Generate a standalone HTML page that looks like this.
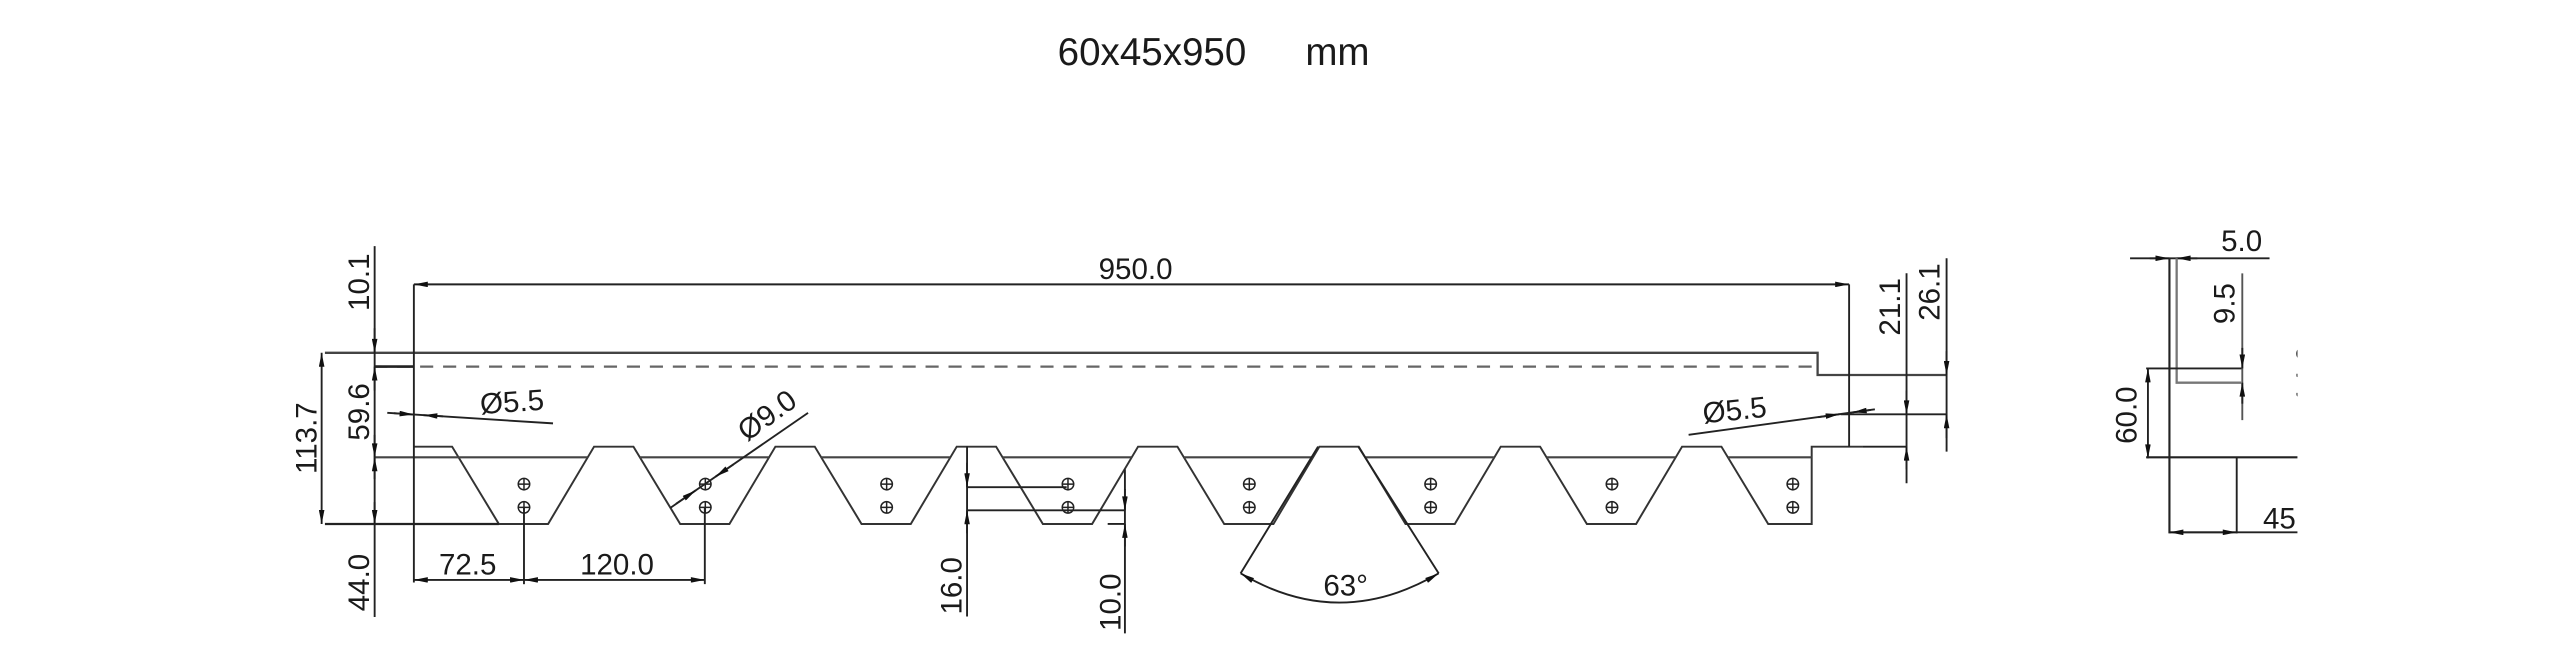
<!DOCTYPE html>
<html><head><meta charset="utf-8"><style>
html,body{margin:0;padding:0;background:#fff;}
svg{display:block}
text{font-family:"Liberation Sans",Arial,sans-serif;fill:#1a1a1a}
</style></head><body>
<svg width="2560" height="660" viewBox="0 0 1560 402.2" preserveAspectRatio="none" xmlns="http://www.w3.org/2000/svg">
<defs>
<marker id="a" viewBox="0 0 10 4" refX="10" refY="2" markerWidth="9" markerHeight="3.4" markerUnits="userSpaceOnUse" orient="auto-start-reverse"><path d="M0,0L10,2L0,4z" fill="#111"/></marker>
<clipPath id="cp"><rect x="0" y="0" width="1400" height="402"/></clipPath>
</defs>
<rect width="1560" height="402.2" fill="#fff"/>
<text x="702" y="39.6" font-size="23.5" text-anchor="middle">60x45x950</text>
<text x="815" y="39.6" font-size="23.5" text-anchor="middle">mm</text>

<g stroke="#222" stroke-width="1.15" fill="none">
<path d="M198,215 H1107.6 V228.5 H1186" stroke="#444" stroke-width="1.4"/>
<line x1="228" y1="223.4" x2="1107" y2="223.4" stroke="#666" stroke-width="1.4" stroke-dasharray="8 6"/>
<line x1="228" y1="223.4" x2="252" y2="223.4" stroke-width="1.6"/>
<path d="M252,272.2 H275.5 L304,319.3 H334 L362,272.2 H386 L414.5,319.3 H444.5 L472.5,272.2 H496.5 L525,319.3 H555 L583,272.2 H607 L635.5,319.3 H665.5 L693.5,272.2 H717.5 L746,319.3 H776 L804,272.2 H828 L856.5,319.3 H886.5 L914.5,272.2 H938.5 L967,319.3 H997 L1025,272.2 H1049 L1077.5,319.3 H1104 V272.2 H1135" stroke="#333" stroke-width="1.2"/>
<path d="M228,278.7H358 M390,278.7H468.5 M500.5,278.7H579 M611,278.7H689.5 M721.5,278.7H800 M832,278.7H910.5 M942.5,278.7H1021 M1053,278.7H1104" stroke="#444" stroke-width="1.3"/>
<line x1="198" y1="319.3" x2="304" y2="319.3" stroke-width="1.4"/>

<line x1="228.3" y1="150" x2="228.3" y2="376"/>
<line x1="228.3" y1="200" x2="228.3" y2="215" marker-end="url(#a)"/>
<line x1="228.3" y1="238" x2="228.3" y2="223.4" marker-end="url(#a)"/>
<line x1="228.3" y1="265" x2="228.3" y2="278.7" marker-end="url(#a)"/>
<line x1="228.3" y1="292" x2="228.3" y2="278.7" marker-end="url(#a)"/>
<line x1="228.3" y1="306" x2="228.3" y2="319.3" marker-end="url(#a)"/>
<line x1="196" y1="215" x2="196" y2="319.3" marker-start="url(#a)" marker-end="url(#a)"/>

<line x1="252.2" y1="173.3" x2="252.2" y2="355"/>
<line x1="252.2" y1="173.3" x2="1126.8" y2="173.3" marker-start="url(#a)" marker-end="url(#a)"/>
<line x1="1126.8" y1="173.3" x2="1126.8" y2="272.2"/>

<line x1="1121.6" y1="252.5" x2="1186" y2="252.5"/>
<line x1="1135" y1="272.2" x2="1162" y2="272.2"/>
<line x1="1161.8" y1="166.5" x2="1161.8" y2="294.5"/>
<line x1="1161.8" y1="238" x2="1161.8" y2="252.5" marker-end="url(#a)"/>
<line x1="1161.8" y1="286" x2="1161.8" y2="272.2" marker-end="url(#a)"/>
<line x1="1186.2" y1="157.4" x2="1186.2" y2="275.2"/>
<line x1="1186.2" y1="214" x2="1186.2" y2="228.5" marker-end="url(#a)"/>
<line x1="1186.2" y1="267" x2="1186.2" y2="252.5" marker-end="url(#a)"/>

<line x1="236" y1="251.6" x2="337" y2="258"/>
<line x1="270" y1="253.7" x2="258" y2="253" marker-end="url(#a)"/>
<line x1="240" y1="251.8" x2="252" y2="252.6" marker-end="url(#a)"/>
<line x1="1029" y1="265" x2="1142.5" y2="249.4"/>
<line x1="1108" y1="254.2" x2="1121" y2="252.4" marker-end="url(#a)"/>
<line x1="1140" y1="249.8" x2="1129" y2="251.3" marker-end="url(#a)"/>

<line x1="408.5" y1="309.5" x2="492.4" y2="251.6"/>
<line x1="412" y1="307" x2="424" y2="298.8" marker-end="url(#a)"/>
<line x1="447" y1="283" x2="436" y2="290.5" marker-end="url(#a)"/>

<line x1="319.3" y1="309" x2="319.3" y2="356"/>
<line x1="429.5" y1="309" x2="429.5" y2="356"/>
<line x1="252.2" y1="353.4" x2="319.3" y2="353.4" marker-start="url(#a)" marker-end="url(#a)"/>
<line x1="319.3" y1="353.4" x2="429.5" y2="353.4" marker-start="url(#a)" marker-end="url(#a)"/>

<line x1="589.3" y1="272" x2="589.3" y2="375.7"/>
<line x1="589.3" y1="296.9" x2="650" y2="296.9"/>
<line x1="589.3" y1="311" x2="685" y2="311"/>
<line x1="589.3" y1="282" x2="589.3" y2="296.9" marker-end="url(#a)"/>
<line x1="589.3" y1="325" x2="589.3" y2="311" marker-end="url(#a)"/>
<line x1="675" y1="319.3" x2="685.5" y2="319.3"/>
<line x1="685.5" y1="286" x2="685.5" y2="386"/>
<line x1="685.5" y1="298" x2="685.5" y2="311" marker-end="url(#a)"/>
<line x1="685.5" y1="333" x2="685.5" y2="319.3" marker-end="url(#a)"/>

<line x1="803.2" y1="272.2" x2="756" y2="349.4"/>
<line x1="827.7" y1="272.2" x2="876.7" y2="349.4"/>
<path d="M756,349.4 Q816,385 876.7,349.4" marker-start="url(#a)" marker-end="url(#a)"/>

<line x1="1298" y1="157.4" x2="1383" y2="157.4"/>
<line x1="1310" y1="157.4" x2="1322" y2="157.4" marker-end="url(#a)"/>
<line x1="1339" y1="157.4" x2="1326.4" y2="157.4" marker-end="url(#a)"/>
<line x1="1322" y1="157.4" x2="1322" y2="325" stroke-width="1.3"/>
<path d="M1326.4,157.4 V233.2 H1365.7" stroke="#777" stroke-width="1.4"/>
<line x1="1307.8" y1="224.5" x2="1366.8" y2="224.5"/>
<line x1="1366.4" y1="166.6" x2="1366.4" y2="256" stroke="#555"/>
<line x1="1366.4" y1="212" x2="1366.4" y2="224.5" marker-end="url(#a)"/>
<line x1="1366.4" y1="246" x2="1366.4" y2="233.2" marker-end="url(#a)"/>
<line x1="1308.9" y1="224.5" x2="1308.9" y2="279.3" marker-start="url(#a)" marker-end="url(#a)"/>
<line x1="1307.8" y1="278.7" x2="1400" y2="278.7" stroke-width="1.3"/>
<line x1="1363" y1="278.7" x2="1363" y2="325"/>
<line x1="1322" y1="324.4" x2="1400" y2="324.4"/>
<line x1="1322" y1="324.4" x2="1363" y2="324.4" marker-start="url(#a)" marker-end="url(#a)"/>
</g>

<g stroke="#222" stroke-width="0.9" fill="none">
<g id="h"><circle cx="319.3" cy="295" r="3.5"/><path d="M315.8,295H322.8M319.3,291.5V298.5"/><circle cx="319.3" cy="309.2" r="3.5"/><path d="M315.8,309.2H322.8M319.3,305.7V312.7"/></g>
<use href="#h" x="110.5"/><use href="#h" x="221"/><use href="#h" x="331.5"/><use href="#h" x="442"/><use href="#h" x="552.5"/><use href="#h" x="663"/><use href="#h" x="773.2"/>
</g>

<g font-size="18">
<text x="692" y="170" text-anchor="middle">950.0</text>
<text transform="translate(219,172) rotate(-90)" text-anchor="middle" dominant-baseline="central">10.1</text>
<text transform="translate(219,251) rotate(-90)" text-anchor="middle" dominant-baseline="central">59.6</text>
<text transform="translate(187,267) rotate(-90)" text-anchor="middle" dominant-baseline="central">113.7</text>
<text transform="translate(219,355) rotate(-90)" text-anchor="middle" dominant-baseline="central">44.0</text>
<text x="312" y="251" text-anchor="middle" transform="rotate(-4 312 245)">Ø5.5</text>
<text x="1057" y="256" text-anchor="middle" transform="rotate(-6 1057 250)">Ø5.5</text>
<text transform="translate(471,258) rotate(-36)" text-anchor="middle">Ø9.0</text>
<text x="285" y="350" text-anchor="middle">72.5</text>
<text x="376" y="350" text-anchor="middle">120.0</text>
<text transform="translate(580,357) rotate(-90)" text-anchor="middle" dominant-baseline="central">16.0</text>
<text transform="translate(677,367) rotate(-90)" text-anchor="middle" dominant-baseline="central">10.0</text>
<text x="820" y="363" text-anchor="middle">63°</text>
<text transform="translate(1152,187) rotate(-90)" text-anchor="middle" dominant-baseline="central">21.1</text>
<text transform="translate(1176,178) rotate(-90)" text-anchor="middle" dominant-baseline="central">26.1</text>
<text x="1366" y="153" text-anchor="middle">5.0</text>
<text transform="translate(1356,185) rotate(-90)" text-anchor="middle" dominant-baseline="central">9.5</text>
<text transform="translate(1296,253) rotate(-90)" text-anchor="middle" dominant-baseline="central">60.0</text>
<text x="1389" y="322" text-anchor="middle" clip-path="url(#cp)">45</text>
<g clip-path="url(#cp)"><text transform="translate(1406,228) rotate(-90)" text-anchor="middle" dominant-baseline="central">14.0</text></g>
</g>
</svg>
</body></html>
